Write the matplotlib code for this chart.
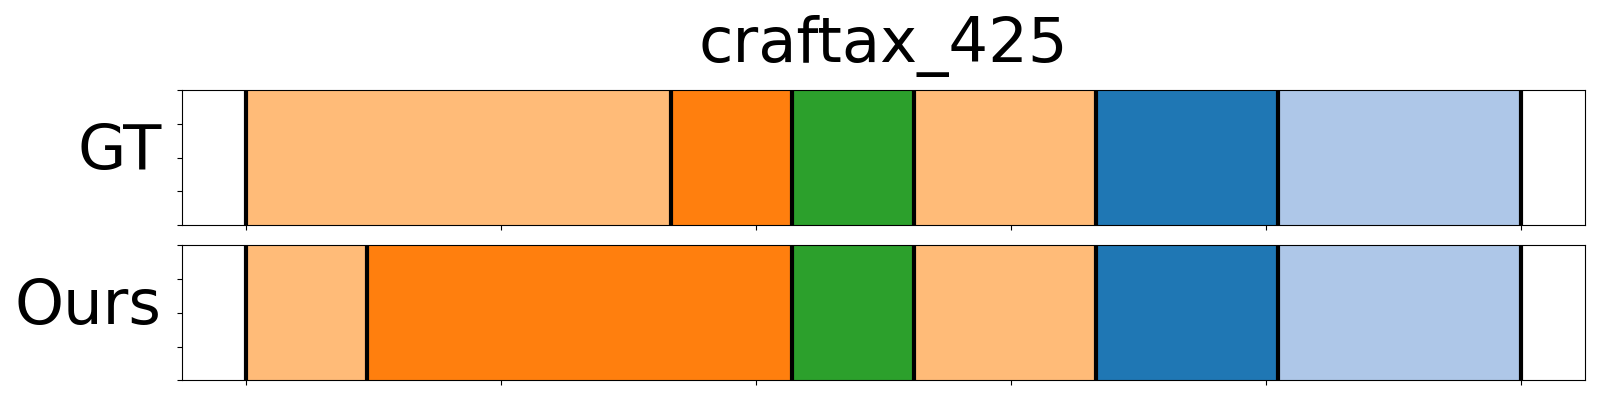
import matplotlib
matplotlib.use("Agg")
import matplotlib.pyplot as plt

title = "craftax_425"
row_labels = ["GT", "Ours"]
total_frames = 21
# segment boundaries (frame indices) and class ids per row
gt_bounds = [0, 7, 9, 11, 14, 17, 21]
gt_classes = ["c_lightorange", "c_orange", "c_green", "c_lightorange", "c_blue", "c_lightblue"]
ours_bounds = [0, 2, 9, 11, 14, 17, 21]
ours_classes = ["c_lightorange", "c_orange", "c_green", "c_lightorange", "c_blue", "c_lightblue"]

class_colors = {
    "c_blue": "#1f77b4",
    "c_lightblue": "#aec7e8",
    "c_orange": "#ff7f0e",
    "c_lightorange": "#ffbb78",
    "c_green": "#2ca02c",
}

fig = plt.figure(figsize=(16, 4), dpi=100)
ax_top = fig.add_axes([0.1136, 0.437, 0.8772, 0.3375])
ax_bot = fig.add_axes([0.1136, 0.049, 0.8772, 0.3375])

rows = [(ax_top, gt_bounds, gt_classes, row_labels[0]),
        (ax_bot, ours_bounds, ours_classes, row_labels[1])]

for ax, bounds, classes, lab in rows:
    for i, cls in enumerate(classes):
        s = bounds[i] / total_frames
        e = bounds[i + 1] / total_frames
        ax.axvspan(s, e, color=class_colors[cls], lw=0)
    for b in bounds:
        ax.axvline(b / total_frames, color="black", lw=3)
    ax.set_ylim(0, 1)
    ax.set_xticklabels([])
    ax.set_yticklabels([])
    ax.set_ylabel(lab, fontsize=45, rotation=0, ha="right", va="center")
    ax.yaxis.set_label_coords(-0.0145, 0.545)

ax_top.set_title(title, fontsize=45, pad=20)

fig.savefig("out.png", dpi=100)
